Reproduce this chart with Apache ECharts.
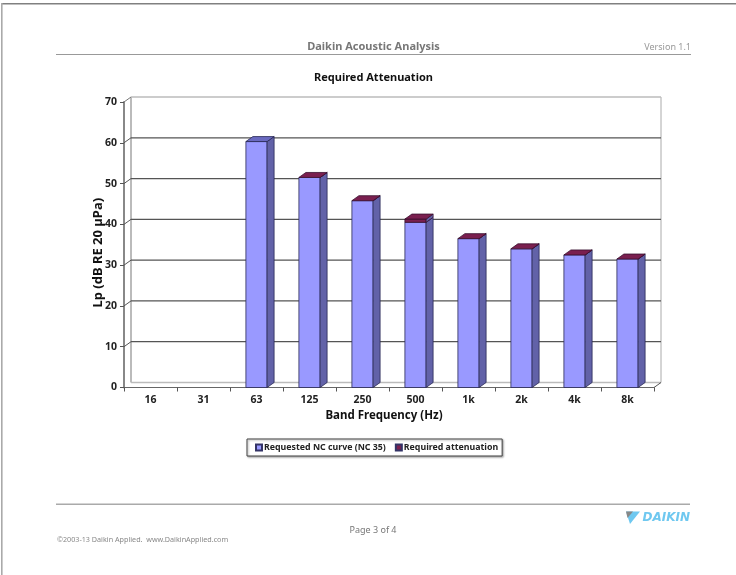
<!DOCTYPE html>
<html><head><meta charset="utf-8">
<style>html,body{margin:0;padding:0;background:#fff}#c{width:736px;height:575px;filter:blur(0.4px)}</style>
<script src="https://cdn.jsdelivr.net/npm/echarts@6/dist/echarts.min.js"></script>
</head><body><div id="c"></div>
<script>
const categories = ['16','31','63','125','250','500','1k','2k','4k','8k'];
const requested = [null,null,60.3,51.5,45.8,40.5,36.5,34,32.5,31.5];
const attenuation = [null,null,null,0,0,0.8,0,0,0,0];
const yTicks = [0,10,20,30,40,50,60,70];

const DX = 7, DY = -5, BAR = 0.4;
const font = '"Noto Sans", sans-serif';
const poly = (pts, fill, stroke) => ({type:'polygon', shape:{points:pts},
  style:{fill, stroke:stroke||'#2a2a55', lineWidth:0.8}});
const seg = (a,b,stroke,w) => ({type:'line', shape:{x1:a[0],y1:a[1],x2:b[0],y2:b[1]},
  style:{stroke, lineWidth:w||1}, silent:true});

function box(api, base, top, front, side, cap, edge) {
  const c = api.coord([api.value(0), top]);
  const b = api.coord([api.value(0), base]);
  const w = api.size([1,0])[0] * BAR;
  const l = c[0]-w/2, r = c[0]+w/2, t = c[1], y0 = b[1];
  const ch = [];
  if (front) ch.push(poly([[l,t],[r,t],[r,y0],[l,y0]], front, edge));
  ch.push(poly([[r,t],[r+DX,t+DY],[r+DX,y0+DY],[r,y0]], side, edge));
  if (cap) ch.push(poly([[l,t],[l+DX,t+DY],[r+DX,t+DY],[r,t]], cap, edge));
  return {type:'group', children:ch};
}

const chart = echarts.init(document.getElementById('c'), null, {renderer:'canvas'});
chart.setOption({
  animation:false,
  backgroundColor:'#fff',
  title:{text:'Required Attenuation', left:309, top:67,
    textStyle:{fontFamily:font,fontSize:11,fontWeight:'bold',color:'#111'}},
  grid:{left:124, right:82, top:102, bottom:187.5, containLabel:false},
  legend:{data:['Requested NC curve (NC 35)','Required attenuation'],
    left:247, top:439, icon:'rect', itemWidth:6, itemHeight:6, itemGap:9, padding:[4,4,4,8],
    backgroundColor:'#fff', borderColor:'#444', borderWidth:1,
    shadowColor:'rgba(0,0,0,0.35)', shadowBlur:2, shadowOffsetX:1, shadowOffsetY:1,
    textStyle:{fontFamily:font,fontSize:8.8,fontWeight:'bold',color:'#222',padding:[0,0,0,-3]},
    selectedMode:false},
  xAxis:{type:'category', data:categories,
    name:'Band Frequency (Hz)', nameLocation:'middle', nameGap:22,
    nameTextStyle:{fontFamily:font,fontSize:11.5,fontWeight:'bold',color:'#111',padding:[0,10,0,0]},
    axisLine:{lineStyle:{color:'#666',width:1}},
    axisTick:{show:true,length:4,lineStyle:{color:'#555'}},
    axisLabel:{fontFamily:font,fontSize:10.5,fontWeight:'bold',color:'#222',margin:7,interval:0}},
  yAxis:{type:'value', min:0, max:70, interval:10,
    name:'Lp (dB RE 20 µPa)', nameLocation:'middle', nameGap:19, nameMoveOverlap:false,
    nameTextStyle:{fontFamily:font,fontSize:13,fontWeight:'bold',color:'#111',padding:[0,16,0,0]},
    axisLine:{show:true,lineStyle:{color:'#888',width:2}},
    axisTick:{show:true,length:4,lineStyle:{color:'#555'}},
    splitLine:{show:false},
    axisLabel:{fontFamily:font,fontSize:10.5,fontWeight:'bold',color:'#222',margin:7}},
  series:[
    {type:'custom', name:'wall', silent:true, z:1, data:yTicks.map(v=>[0,v]),
     encode:{x:0,y:1},
     renderItem(p, api){
       const s = p.coordSys, y = api.coord([0, api.value(1)])[1];
       const x0 = s.x, x1 = s.x+s.width, v = api.value(1);
       const ch = [];
       if (v === 0) {
         const top = s.y;
         ch.push(seg([x0+DX,y+DY],[x0+DX,top+DY],'#bbb',2));
         ch.push(seg([x1+DX,y+DY],[x1+DX,top+DY],'#aaa',1));
         ch.push(seg([x0+DX,y+DY],[x1+DX,y+DY],'#bbb',1.5));
         ch.push(seg([x1,y],[x1+DX,y+DY],'#555',1));
       } else if (v === 70) {
         ch.push(seg([x0,y],[x0+DX,y+DY],'#777',1));
         ch.push(seg([x0+DX,y+DY],[x1+DX,y+DY],'#bbb',1.5));
       } else {
         ch.push(seg([x0,y],[x0+DX,y+DY],'#555',1));
         ch.push(seg([x0+DX,y+DY],[x1+DX,y+DY],'#555',1.2));
       }
       return {type:'group',children:ch};
     }},
    {type:'custom', name:'Requested NC curve (NC 35)', z:3,
     itemStyle:{color:'#9999ff',borderColor:'#333366',borderWidth:1},
     data:requested.map((v,i)=>[i,v,attenuation[i]]), encode:{x:0,y:1},
     renderItem(p, api){
       const v = api.value(1);
       if (isNaN(v)) return null;
       const noCap = !isNaN(api.value(2));
       return box(api, 0, v, '#9999ff', '#6262a8', noCap ? null : '#6a6ac0');
     }},
    {type:'custom', name:'Required attenuation', z:4,
     itemStyle:{color:'#7a1f4f',borderColor:'#333366',borderWidth:1},
     data:attenuation.map((v,i)=>[i,requested[i],v]), encode:{x:0,y:1},
     renderItem(p, api){
       const a = api.value(2), b = api.value(1);
       if (isNaN(a)) return null;
       return box(api, b, b+a, a>0?'#7a1f4f':null, '#6262a8', '#7a1f4f', '#3a1030');
     }}
  ],
  graphic:[
    {type:'rect',shape:{x:1,y:3,width:735,height:1.6},style:{fill:'#808080'},silent:true},
    {type:'rect',shape:{x:1,y:3,width:1.6,height:572},style:{fill:'#aaa'},silent:true},
    {type:'rect',shape:{x:56,y:54,width:635,height:1},style:{fill:'#999'},silent:true},
    {type:'rect',shape:{x:56,y:503.5,width:634,height:1.4},style:{fill:'#aaa'},silent:true},
    {type:'text',style:{x:373.5,y:47,text:'Daikin Acoustic Analysis',align:'center',verticalAlign:'middle',
      fontFamily:font,fontSize:11,fontWeight:'bold',fill:'#777'}},
    {type:'text',style:{x:691,y:47,text:'Version 1.1',align:'right',verticalAlign:'middle',
      fontFamily:font,fontSize:9,fill:'#999'}},
    {type:'text',style:{x:373,y:530,text:'Page 3 of 4',align:'center',verticalAlign:'middle',
      fontFamily:font,fontSize:9,fill:'#777'}},
    {type:'text',style:{x:57,y:540,text:'©2003-13 Daikin Applied.  www.DaikinApplied.com',align:'left',verticalAlign:'middle',
      fontFamily:font,fontSize:7.2,fill:'#888'}},
    {type:'polygon',shape:{points:[[626,511.5],[640,511.5],[630,524]]},style:{fill:'#6fc8f0'},silent:true},
    {type:'polygon',shape:{points:[[626,511.5],[633,511.5],[627.5,518]]},style:{fill:'#888'},silent:true},
    {type:'text',style:{x:690,y:517.5,text:'DAIKIN',align:'right',verticalAlign:'middle',
      fontFamily:'"DejaVu Sans", sans-serif',fontSize:12,fontWeight:'bold',fontStyle:'italic',fill:'#6fc8f0'}}
  ]
});
</script></body></html>
